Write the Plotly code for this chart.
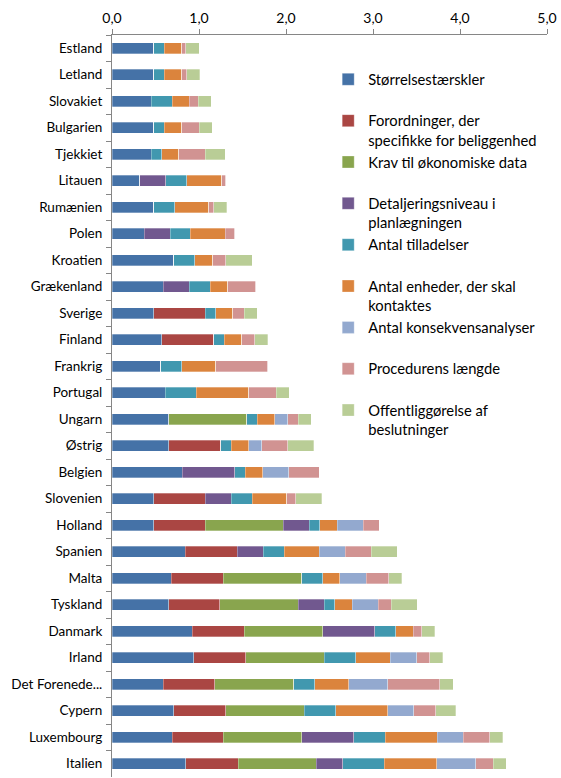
import plotly.graph_objects as go

countries = ["Estland", "Letland", "Slovakiet", "Bulgarien", "Tjekkiet", "Litauen", "Rumænien",
             "Polen", "Kroatien", "Grækenland", "Sverige", "Finland", "Frankrig", "Portugal",
             "Ungarn", "Østrig", "Belgien", "Slovenien", "Holland", "Spanien", "Malta",
             "Tyskland", "Danmark", "Irland", "Det Forenede...", "Cypern", "Luxembourg", "Italien"]

series_names = ["Størrelsestærskler",
                "Forordninger, der<br>specifikke for beliggenhed",
                "Krav til økonomiske data",
                "Detaljeringsniveau i<br>planlægningen",
                "Antal tilladelser",
                "Antal enheder, der skal<br>kontaktes",
                "Antal konsekvensanalyser",
                "Procedurens længde",
                "Offentliggørelse af<br>beslutninger"]

storrelse = [0.48, 0.48, 0.45, 0.48, 0.45, 0.32, 0.48, 0.37, 0.71, 0.59, 0.48, 0.57, 0.56, 0.61,
             0.65, 0.65, 0.81, 0.48, 0.48, 0.84, 0.68, 0.65, 0.92, 0.94, 0.59, 0.71, 0.69, 0.85]
forordninger = [0, 0, 0, 0, 0, 0, 0, 0, 0, 0, 0.59, 0.60, 0, 0,
                0, 0.60, 0, 0.59, 0.59, 0.60, 0.60, 0.59, 0.60, 0.60, 0.59, 0.60, 0.59, 0.60]
krav = [0, 0, 0, 0, 0, 0, 0, 0, 0, 0, 0, 0, 0, 0,
        0.90, 0, 0, 0, 0.90, 0, 0.90, 0.90, 0.90, 0.90, 0.91, 0.90, 0.90, 0.90]
detaljering = [0, 0, 0, 0, 0, 0.30, 0, 0.30, 0, 0.30, 0, 0, 0, 0,
               0, 0, 0.60, 0.30, 0.30, 0.30, 0, 0.30, 0.60, 0, 0, 0, 0.60, 0.30]
tilladelser = [0.12, 0.12, 0.24, 0.12, 0.12, 0.24, 0.24, 0.23, 0.24, 0.24, 0.12, 0.12, 0.24, 0.36,
               0.12, 0.12, 0.12, 0.24, 0.12, 0.24, 0.24, 0.12, 0.24, 0.36, 0.24, 0.36, 0.36, 0.48]
enheder = [0.20, 0.20, 0.20, 0.20, 0.20, 0.40, 0.39, 0.40, 0.21, 0.20, 0.20, 0.20, 0.39, 0.60,
           0.20, 0.20, 0.20, 0.40, 0.20, 0.40, 0.20, 0.20, 0.20, 0.40, 0.39, 0.60, 0.60, 0.60]
konsekvens = [0, 0, 0, 0, 0, 0, 0, 0, 0, 0, 0, 0, 0, 0,
              0.15, 0.15, 0.30, 0, 0.30, 0.30, 0.30, 0.30, 0, 0.30, 0.45, 0.30, 0.30, 0.45]
procedure = [0.05, 0.06, 0.10, 0.20, 0.30, 0.05, 0.06, 0.11, 0.15, 0.32, 0.13, 0.15, 0.60, 0.32,
             0.12, 0.30, 0.35, 0.10, 0.18, 0.30, 0.26, 0.15, 0.10, 0.15, 0.60, 0.25, 0.30, 0.20]
offentlig = [0.15, 0.15, 0.15, 0.15, 0.23, 0, 0.15, 0, 0.30, 0, 0.15, 0.15, 0, 0.15,
             0.15, 0.30, 0, 0.30, 0, 0.30, 0.15, 0.30, 0.15, 0.15, 0.15, 0.23, 0.15, 0.15]

series_values = [storrelse, forordninger, krav, detaljering, tilladelser,
                 enheder, konsekvens, procedure, offentlig]
colors = ["#4572A7", "#AA4643", "#89A54E", "#71588F", "#4198AF",
          "#DB843D", "#93A9CF", "#D19392", "#B9CD96"]

fig = go.Figure()
for i, (name, vals, col) in enumerate(zip(series_names, series_values, colors)):
    label = name if "<br>" in name else name + "<br> "
    fig.add_trace(go.Bar(
        y=countries, x=vals, name=label, orientation="h",
        marker=dict(color=col, line=dict(color="rgba(255,255,255,0.6)", width=0.5)),
        legendgroup=f"g{i}",
    ))

fig.update_layout(
    barmode="stack",
    bargap=0.58,
    width=561, height=778,
    margin=dict(l=112, r=14, t=35, b=1),
    paper_bgcolor="white", plot_bgcolor="white",
    separators=", ",
    font=dict(family="Lato, Open Sans, sans-serif", size=13, color="#000000"),
    legend=dict(
        x=0.497, y=0.962, xanchor="left", yanchor="top",
        bgcolor="rgba(0,0,0,0)", valign="top",
        font=dict(size=14.75, color="#000000"),
        tracegroupgap=0, itemwidth=30,
    ),
    xaxis=dict(
        side="top", range=[0, 5], dtick=1, tickformat=".1f",
        showgrid=False, zeroline=False, automargin=False,
        showline=True, linecolor="#868686", linewidth=1,
        ticks="outside", ticklen=5, tickcolor="#868686",
        tickfont=dict(size=14),
    ),
    yaxis=dict(
        autorange="reversed", showgrid=False, zeroline=False, automargin=False,
        showline=True, linecolor="#868686", linewidth=1,
        ticks="outside", ticklen=5, tickcolor="#868686", tickson="boundaries",
        ticklabelstandoff=6,
        tickfont=dict(size=13.5),
    ),
)

fig.write_html("out.html", config={"displayModeBar": False},
               post_script="document.body.style.margin='0';document.body.style.overflow='hidden';")
